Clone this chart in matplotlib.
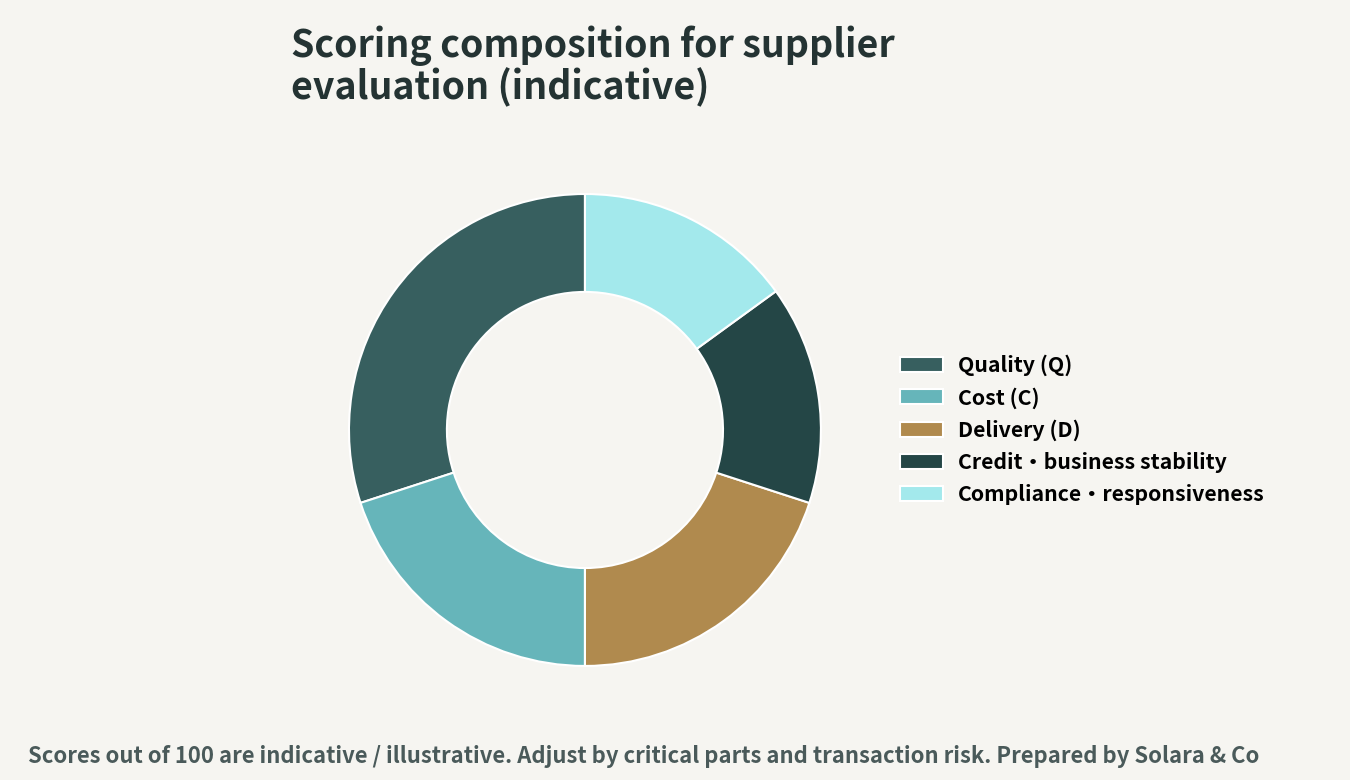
import matplotlib
matplotlib.use('Agg')
import matplotlib.pyplot as plt
from matplotlib.patches import Patch

plt.rcParams['font.family'] = ['Noto Sans CJK JP', 'DejaVu Sans']

# Data
categories = ["Quality (Q)", "Cost (C)", "Delivery (D)",
              "Credit・business stability", "Compliance・responsiveness"]
scores = [30, 20, 20, 15, 15]
colors = ["#375f5f", "#66b5ba", "#b08a4e", "#244646", "#a3e9ec"]

BG = "#f6f5f1"

fig = plt.figure(figsize=(13.5, 7.8), dpi=100, facecolor=BG)
ax = fig.add_axes([0.2585, 0.1462, 0.3496, 0.6051])
ax.set_facecolor(BG)

wedges, _ = ax.pie(scores, colors=colors, startangle=90, counterclock=True,
                   radius=1.0,
                   wedgeprops=dict(width=0.415, edgecolor='white', linewidth=1.5))
ax.set_xlim(-1, 1)
ax.set_ylim(-1, 1)
ax.set_aspect('equal')
ax.axis('off')

# Title
fig.text(0.2155, 0.862, "Scoring composition for supplier\nevaluation (indicative)",
         fontsize=27, fontweight='bold', color='#243333', ha='left', va='bottom',
         linespacing=1.07)

# Legend
handles = [Patch(facecolor=c, edgecolor='white', linewidth=1.5) for c in colors]
fig.legend(handles, categories, loc='center left', bbox_to_anchor=(0.6526, 0.449),
           frameon=False, handlelength=2.0, handleheight=0.7,
           handletextpad=0.72, labelspacing=0.52,
           prop={'weight': 'bold', 'size': 15.3})

# Footer
fig.text(0.0207, 0.016,
         "Scores out of 100 are indicative / illustrative. Adjust by critical parts and "
         "transaction risk. Prepared by Solara & Co",
         fontsize=15.85, fontweight='bold', color='#4a5a5a', ha='left', va='bottom')

fig.savefig("out.png", dpi=100, facecolor=BG)
plt.close(fig)
